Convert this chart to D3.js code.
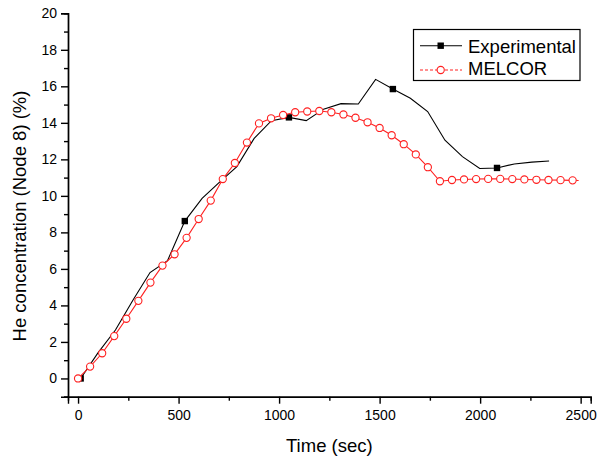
<!DOCTYPE html>
<html>

<head>
    <title>He concentration</title>
    <script src="https://cdn.jsdelivr.net/npm/d3@7"></script>
    <style>
        body { margin: 0; background: #fff; }
        text { font-family: "Liberation Sans", Arial, sans-serif; }
    </style>
</head>

<body>
    <svg width="597" height="456" id="mainsvg"></svg>
    <script>
        // experimental data (sec, %)
        const expTime = [13, 99, 186, 272, 358, 445, 531, 617, 704, 790, 876, 962, 1049, 1135,
            1221, 1308, 1394, 1480, 1566, 1653, 1739, 1825, 1912, 1998, 2084, 2170, 2257, 2343];
        const expValue = [0, 1.4, 2.65, 4.27, 5.8, 6.45, 8.62, 9.86, 10.75, 11.6, 13.15, 14.12, 14.3, 14.12,
            14.75, 15.05, 15.03, 16.38, 15.85, 15.35, 14.62, 13.05, 12.15, 11.5, 11.53, 11.75, 11.85, 11.91];
        // MELCOR calculation
        const melTime = [0, 60, 120, 180, 240, 300, 360, 420, 480, 540, 600, 660, 720, 780, 840, 900, 960,
            1020, 1080, 1140, 1200, 1260, 1320, 1380, 1440, 1500, 1560, 1620, 1680, 1740, 1800, 1860, 1920,
            1980, 2040, 2100, 2160, 2220, 2280, 2340, 2400, 2460, 2490];
        const melValue = [0, 0.65, 1.38, 2.32, 3.27, 4.25, 5.25, 6.18, 6.8, 7.7, 8.73, 9.74, 10.92, 11.8,
            12.92, 13.97, 14.25, 14.43, 14.58, 14.62, 14.65, 14.58, 14.46, 14.28, 14.03, 13.72, 13.32, 12.83,
            12.27, 11.57, 10.8, 10.87, 10.9, 10.92, 10.93, 10.93, 10.92, 10.9, 10.88, 10.87, 10.86, 10.85, 10.84];
        const xMajor = [0, 500, 1000, 1500, 2000, 2500];
        const xMinor = [250, 750, 1250, 1750, 2250];
        const yMajor = [0, 2, 4, 6, 8, 10, 12, 14, 16, 18, 20];
        const yMinor = [-1, 1, 3, 5, 7, 9, 11, 13, 15, 17, 19];
        const seriesNames = ['Experimental', 'MELCOR'];

        const svg = d3.select('svg');
        const mLeft = 68, mRight = 590.7, mTop = 13.3, mBottom = 396.7;

        const x = d3.scaleLinear().domain([-50, 2550]).range([mLeft, mRight]);
        const y = d3.scaleLinear().domain([-1, 20]).range([mBottom, mTop]);

        const expData = expTime.map((t, i) => ({ t: t, v: expValue[i] }));
        const melData = melTime.map((t, i) => ({ t: t, v: melValue[i] }));

        // axes
        const styleAxis = g => {
            g.select('.domain').attr('stroke', '#000').attr('stroke-width', 1.4);
            g.selectAll('.tick line').attr('stroke', '#000').attr('stroke-width', 1.4);
            g.selectAll('.tick text').attr('font-size', 14).attr('fill', '#000')
                .attr('font-family', '"Liberation Sans", Arial, sans-serif');
        };
        svg.append('g').attr('transform', `translate(0,${mBottom})`)
            .call(d3.axisBottom(x).tickValues(xMinor).tickSize(4).tickFormat(''))
            .call(styleAxis);
        svg.append('g').attr('transform', `translate(0,${mBottom})`)
            .call(d3.axisBottom(x).tickValues(xMajor).tickSize(7).tickPadding(6).tickFormat(d3.format('d')))
            .call(styleAxis);
        svg.append('g').attr('transform', `translate(${mLeft},0)`)
            .call(d3.axisLeft(y).tickValues(yMinor).tickSize(4).tickFormat(''))
            .call(styleAxis);
        svg.append('g').attr('transform', `translate(${mLeft},0)`)
            .call(d3.axisLeft(y).tickValues(yMajor).tickSize(7).tickPadding(4).tickFormat(d3.format('d')))
            .call(styleAxis);

        // axis titles
        svg.append('text').attr('x', (mLeft + mRight) / 2).attr('y', 452)
            .attr('text-anchor', 'middle').attr('font-size', 18.5).text('Time (sec)');
        svg.append('text').attr('transform', 'translate(26,216) rotate(-90)')
            .attr('text-anchor', 'middle').attr('font-size', 18.5).text('He concentration (Node 8) (%)');

        const line = d3.line().x(d => x(d.t)).y(d => y(d.v));

        // experimental
        svg.append('path').datum(expData).attr('d', line)
            .attr('fill', 'none').attr('stroke', '#000').attr('stroke-width', 1.1);
        svg.selectAll('.expMark').data(expData.filter((d, i) => i % 6 === 0)).join('rect')
            .attr('class', 'expMark')
            .attr('x', d => x(d.t) - 3.2).attr('y', d => y(d.v) - 3.2)
            .attr('width', 6.4).attr('height', 6.4).attr('fill', '#000');

        // MELCOR
        svg.append('path').datum(melData).attr('d', line)
            .attr('fill', 'none').attr('stroke', '#ff2020').attr('stroke-width', 1.1);
        svg.selectAll('.melMark').data(melData.slice(0, -1)).join('circle')
            .attr('class', 'melMark')
            .attr('cx', d => x(d.t)).attr('cy', d => y(d.v)).attr('r', 3.6)
            .attr('fill', '#fff').attr('stroke', '#ff2020').attr('stroke-width', 1.1);

        // legend
        const lg = svg.append('g');
        lg.append('rect').attr('x', 413.5).attr('y', 29.5).attr('width', 166.5).attr('height', 51)
            .attr('fill', '#fff').attr('stroke', '#000').attr('stroke-width', 1.2);
        lg.append('line').attr('x1', 420).attr('x2', 462).attr('y1', 45.7).attr('y2', 45.7)
            .attr('stroke', '#000').attr('stroke-width', 1.1);
        lg.append('rect').attr('x', 437.5).attr('y', 42.5).attr('width', 6.4).attr('height', 6.4).attr('fill', '#000');
        lg.append('line').attr('x1', 420).attr('x2', 462).attr('y1', 70).attr('y2', 70)
            .attr('stroke', '#ff2020').attr('stroke-width', 1.1).attr('stroke-dasharray', '3,2');
        lg.append('circle').attr('cx', 440.7).attr('cy', 70).attr('r', 3.6)
            .attr('fill', '#fff').attr('stroke', '#ff2020').attr('stroke-width', 1.1);
        lg.selectAll('.lgText').data(seriesNames).join('text').attr('class', 'lgText')
            .attr('x', 468).attr('y', (d, i) => 52.7 + i * 22.5)
            .attr('font-size', 18.5).text(d => d);
    </script>
</body>

</html>
